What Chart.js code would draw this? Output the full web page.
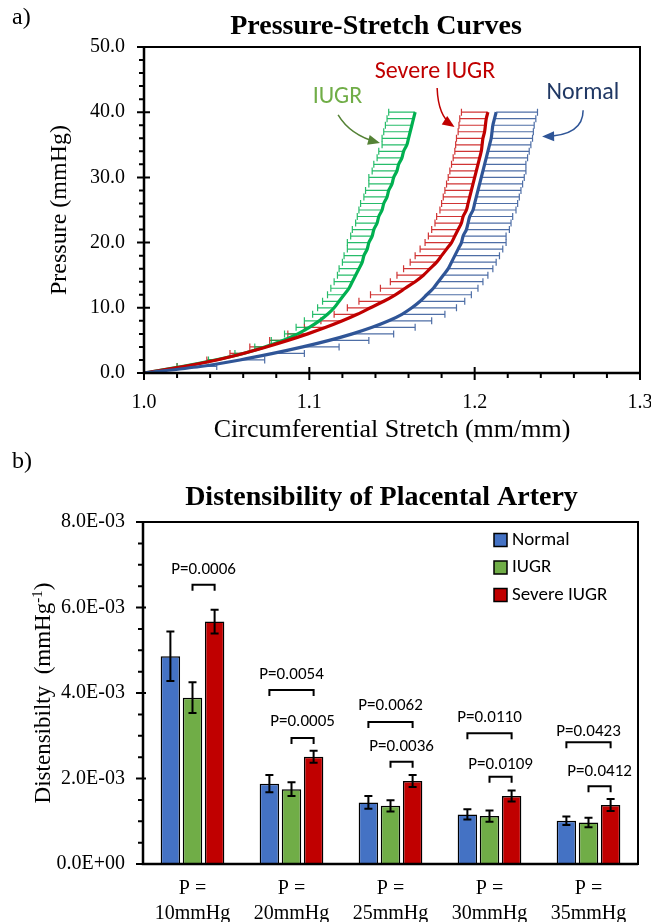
<!DOCTYPE html>
<html>
<head>
<meta charset="utf-8">
<title>Pressure-Stretch and Distensibility</title>
<script src="https://cdn.jsdelivr.net/npm/chart.js@4.4.0/dist/chart.umd.min.js"></script>
<style>
  html, body { margin: 0; padding: 0; background: #fff; }
  #wrap { position: relative; width: 651px; height: 922px; overflow: hidden; }
  .panel { position: absolute; left: 0; width: 651px; }
  #panelA { top: 0; height: 450px; }
  #panelB { top: 450px; height: 472px; }
</style>
</head>
<body>
<div id="wrap">
  <div class="panel" id="panelA"><canvas id="stretchChart"></canvas></div>
  <div class="panel" id="panelB"><canvas id="distChart"></canvas></div>
</div>
<script>
// --- a) pressure-stretch data (stretch read at each mmHg step) ---
const pressure = [0, 1, 2, 3, 4, 5, 6, 7, 8, 9, 10, 11, 12, 13, 14, 15, 16, 17, 18, 19, 20,
  21, 22, 23, 24, 25, 26, 27, 28, 29, 30, 31, 32, 33, 34, 35, 36, 37, 38, 39, 40];

const normalStretch = [1.000, 1.034, 1.058, 1.078, 1.096, 1.112, 1.126, 1.138, 1.148, 1.156, 1.162,
  1.167, 1.171, 1.175, 1.178, 1.181, 1.184, 1.186, 1.188, 1.190, 1.192, 1.193, 1.195, 1.196, 1.197,
  1.199, 1.200, 1.201, 1.202, 1.203, 1.204, 1.205, 1.206, 1.207, 1.208, 1.209, 1.210, 1.2105, 1.211,
  1.212, 1.213];
const iugrStretch = [1.000, 1.023, 1.043, 1.060, 1.073, 1.084, 1.093, 1.100, 1.106, 1.111, 1.115,
  1.118, 1.121, 1.124, 1.126, 1.128, 1.130, 1.132, 1.133, 1.135, 1.136, 1.138, 1.139, 1.141, 1.142,
  1.144, 1.145, 1.147, 1.148, 1.150, 1.151, 1.153, 1.154, 1.156, 1.157, 1.159, 1.160, 1.161, 1.162,
  1.163, 1.164];
const severeStretch = [1.000, 1.024, 1.044, 1.060, 1.074, 1.087, 1.099, 1.110, 1.120, 1.129, 1.137,
  1.145, 1.152, 1.158, 1.164, 1.169, 1.173, 1.177, 1.180, 1.183, 1.186, 1.188, 1.190, 1.192, 1.193,
  1.195, 1.196, 1.197, 1.198, 1.199, 1.200, 1.201, 1.202, 1.203, 1.204, 1.2045, 1.205, 1.206, 1.2065,
  1.207, 1.208];

// one-sided error bars (stretch units), + to the right, - to the left
const normalErr = [0, 0.010, 0.015, 0.019, 0.022, 0.024, 0.025, 0.026, 0.026, 0.026, 0.027,
  0.027, 0.027, 0.027, 0.027, 0.027, 0.027, 0.027, 0.027, 0.027, 0.027, 0.026, 0.026, 0.026, 0.026,
  0.026, 0.026, 0.026, 0.026, 0.026, 0.026, 0.026, 0.025, 0.025, 0.025, 0.025, 0.025, 0.025, 0.025,
  0.025, 0.025];
const iugrErr = [0, -0.003, -0.004, -0.005, -0.006, -0.007, -0.008, -0.008, -0.009, -0.009, -0.010,
  -0.010, -0.010, -0.011, -0.011, -0.011, -0.012, -0.012, -0.012, -0.012, -0.013, -0.013, -0.013,
  -0.013, -0.013, -0.014, -0.014, -0.014, -0.014, -0.014, -0.015, -0.015, -0.015, -0.015, -0.015,
  -0.015, -0.016, -0.016, -0.016, -0.016, -0.016];
const severeErr = [0, -0.004, -0.006, -0.008, -0.010, -0.011, -0.012, -0.013, -0.013, -0.014, -0.014,
  -0.015, -0.015, -0.015, -0.015, -0.016, -0.016, -0.016, -0.016, -0.016, -0.016, -0.016, -0.016,
  -0.016, -0.016, -0.016, -0.016, -0.016, -0.016, -0.016, -0.016, -0.016, -0.016, -0.016, -0.016,
  -0.016, -0.016, -0.016, -0.016, -0.016, -0.016];

// --- b) distensibility data ---
const groups = [['P =', '10mmHg'], ['P =', '20mmHg'], ['P =', '25mmHg'], ['P =', '30mmHg'], ['P =', '35mmHg']];
const normalDist = [4.86e-3, 1.88e-3, 1.44e-3, 1.16e-3, 1.01e-3];
const iugrDist = [3.89e-3, 1.75e-3, 1.36e-3, 1.12e-3, 0.97e-3];
const severeDist = [5.67e-3, 2.51e-3, 1.94e-3, 1.59e-3, 1.38e-3];
const normalSE = [0.58e-3, 0.20e-3, 0.15e-3, 0.12e-3, 0.10e-3];
const iugrSE = [0.36e-3, 0.16e-3, 0.13e-3, 0.13e-3, 0.11e-3];
const severeSE = [0.28e-3, 0.14e-3, 0.14e-3, 0.13e-3, 0.14e-3];

// significance brackets: group, from dataset, to dataset, bracket level, text level
const pValues = [
  { g: 0, a: 1, b: 2, y: 6.53e-3, ty: 6.88e-3, text: 'P=0.0006' },
  { g: 1, a: 0, b: 2, y: 4.07e-3, ty: 4.42e-3, text: 'P=0.0054' },
  { g: 1, a: 1, b: 2, y: 2.95e-3, ty: 3.32e-3, text: 'P=0.0005' },
  { g: 2, a: 0, b: 2, y: 3.32e-3, ty: 3.70e-3, text: 'P=0.0062' },
  { g: 2, a: 1, b: 2, y: 2.39e-3, ty: 2.74e-3, text: 'P=0.0036' },
  { g: 3, a: 0, b: 2, y: 3.06e-3, ty: 3.42e-3, text: 'P=0.0110' },
  { g: 3, a: 1, b: 2, y: 2.04e-3, ty: 2.32e-3, text: 'P=0.0109' },
  { g: 4, a: 0, b: 2, y: 2.85e-3, ty: 3.09e-3, text: 'P=0.0423' },
  { g: 4, a: 1, b: 2, y: 1.82e-3, ty: 2.15e-3, text: 'P=0.0412' }
];

const serif = '"Liberation Serif", "Times New Roman", serif';
const sans = 'Carlito, Lato, "Open Sans", sans-serif';

function drawText(ctx, text, x, y, font, color, align) {
  ctx.save();
  ctx.font = font;
  ctx.fillStyle = color;
  ctx.textAlign = align || 'center';
  ctx.textBaseline = 'middle';
  ctx.fillText(text, x, y);
  ctx.restore();
}

function drawArrow(ctx, p0, c, p1, color) {
  ctx.save();
  ctx.strokeStyle = color;
  ctx.fillStyle = color;
  ctx.lineWidth = 1.5;
  ctx.beginPath();
  ctx.moveTo(p0.x, p0.y);
  ctx.quadraticCurveTo(c.x, c.y, p1.x, p1.y);
  ctx.stroke();
  const ang = Math.atan2(p1.y - c.y, p1.x - c.x);
  ctx.beginPath();
  ctx.moveTo(p1.x + 3 * Math.cos(ang), p1.y + 3 * Math.sin(ang));
  ctx.lineTo(p1.x - 9 * Math.cos(ang) + 5 * Math.sin(ang), p1.y - 9 * Math.sin(ang) - 5 * Math.cos(ang));
  ctx.lineTo(p1.x - 9 * Math.cos(ang) - 5 * Math.sin(ang), p1.y - 9 * Math.sin(ang) + 5 * Math.cos(ang));
  ctx.closePath();
  ctx.fill();
  ctx.restore();
}

function toPoints(stretch) {
  return stretch.map((s, i) => ({ x: s, y: pressure[i] }));
}

function sci(v) {
  if (Math.abs(v) < 1e-12) return '0.0E+00';
  const e = Math.floor(Math.log10(Math.abs(v)) + 1e-9);
  const m = v / Math.pow(10, e);
  return m.toFixed(1) + 'E' + (e < 0 ? '-' : '+') + String(Math.abs(e)).padStart(2, '0');
}

/* --- a) plugins --- */
const stretchErrorBars = {
  id: 'stretchErrorBars',
  beforeDatasetsDraw(chart) {
    const { ctx, scales: { x, y } } = chart;
    chart.data.datasets.forEach(ds => {
      if (!ds.errors) return;
      ctx.save();
      ctx.strokeStyle = ds.errColor;
      ctx.lineWidth = 1.2;
      ds.data.forEach((p, i) => {
        const err = ds.errors[i];
        if (!err) return;
        const py = y.getPixelForValue(p.y);
        const x0 = x.getPixelForValue(p.x);
        const x1 = x.getPixelForValue(p.x + err);
        ctx.beginPath();
        ctx.moveTo(x0, py);
        ctx.lineTo(x1, py);
        ctx.moveTo(x1, py - 3.5);
        ctx.lineTo(x1, py + 3.5);
        ctx.stroke();
      });
      ctx.restore();
    });
  }
};

const stretchFrame = {
  id: 'stretchFrame',
  afterDatasetsDraw(chart) {
    const { ctx, chartArea: a, scales: { x, y } } = chart;
    ctx.save();
    ctx.strokeStyle = '#000';
    ctx.lineWidth = 2;
    ctx.strokeRect(a.left, a.top, a.right - a.left, a.bottom - a.top);
    ctx.lineWidth = 2.5;
    ctx.beginPath();
    ctx.moveTo(a.left, a.top);
    ctx.lineTo(a.left, a.bottom);
    ctx.lineTo(a.right, a.bottom);
    ctx.stroke();
    ctx.lineWidth = 2;
    ctx.beginPath();
    for (let i = 0; i <= 25; i++) {
      const py = y.getPixelForValue(i * 2);
      const major = i % 5 === 0;
      ctx.moveTo(a.left - (major ? 7 : 5), py);
      ctx.lineTo(a.left + (major ? 6 : 0), py);
    }
    for (let i = 0; i <= 15; i++) {
      const px = x.getPixelForValue(1 + i * 0.02);
      const major = i % 5 === 0;
      ctx.moveTo(px, a.bottom - (major ? 6 : 0));
      ctx.lineTo(px, a.bottom + (major ? 7 : 5));
    }
    ctx.stroke();
    ctx.restore();
  }
};

const stretchLabels = {
  id: 'stretchLabels',
  afterDraw(chart) {
    const { ctx, chartArea: a, scales: { x, y } } = chart;
    const P = (sx, py) => ({ x: x.getPixelForValue(sx), y: y.getPixelForValue(py) });
    drawText(ctx, 'a)', 12, 18, '24px ' + serif, '#000', 'left');
    drawText(ctx, 'Pressure-Stretch Curves', (a.left + a.right) / 2 - 16, 27, 'bold 28px ' + serif, '#000');
    drawText(ctx, 'Circumferential Stretch (mm/mm)', (a.left + a.right) / 2, 430, '26px ' + serif, '#000');
    ctx.save();
    ctx.translate(60, (a.top + a.bottom) / 2);
    ctx.rotate(-Math.PI / 2);
    drawText(ctx, 'Pressure (mmHg)', 0, 0, '24px ' + serif, '#000');
    ctx.restore();

    let p = P(1.117, 42.3);
    drawText(ctx, 'IUGR', p.x, p.y, '24px ' + sans, '#70AD47');
    drawArrow(ctx, P(1.1174, 39.6), P(1.1247, 36.5), P(1.141, 35.4), '#548235');

    p = P(1.176, 46.2);
    drawText(ctx, 'Severe IUGR', p.x, p.y, '24px ' + sans, '#C00000');
    drawArrow(ctx, P(1.1773, 43.7), P(1.1779, 39.4), P(1.1863, 38.0), '#C00000');

    p = P(1.2655, 42.9);
    drawText(ctx, 'Normal', p.x, p.y, '24px ' + sans, '#203864');
    drawArrow(ctx, P(1.2656, 40.3), P(1.2656, 36.4), P(1.2426, 36.3), '#2F5597');
  }
};

new Chart(document.getElementById('stretchChart'), {
  type: 'scatter',
  data: {
    datasets: [
      { label: 'Normal', data: toPoints(normalStretch), errors: normalErr, borderColor: '#2F5597', errColor: 'rgba(47,85,151,0.85)' },
      { label: 'Severe IUGR', data: toPoints(severeStretch), errors: severeErr, borderColor: '#C00000', errColor: 'rgba(200,16,16,0.85)' },
      { label: 'IUGR', data: toPoints(iugrStretch), errors: iugrErr, borderColor: '#00B050', errColor: 'rgba(0,176,80,0.85)' }
    ].map(ds => Object.assign(ds, { showLine: true, borderWidth: 3.2, pointRadius: 0, tension: 0.3, fill: false }))
  },
  options: {
    responsive: true,
    maintainAspectRatio: false,
    animation: false,
    layout: { padding: { top: 47, right: 11, left: 0, bottom: 0 } },
    plugins: { legend: { display: false }, tooltip: { enabled: false } },
    scales: {
      x: {
        type: 'linear', min: 1.0, max: 1.3,
        grid: { display: false, drawTicks: false }, border: { display: false },
        ticks: { stepSize: 0.1, maxRotation: 0, autoSkip: false, padding: 18, color: '#000',
          font: { family: serif, size: 20 }, callback: v => v.toFixed(1) },
        afterFit: s => { s.height = 77; s.paddingLeft = 0; s.paddingRight = 0; }
      },
      y: {
        min: 0, max: 50,
        grid: { display: false, drawTicks: false }, border: { display: false },
        ticks: { stepSize: 10, padding: 19, color: '#000',
          font: { family: serif, size: 20 }, callback: v => v.toFixed(1) },
        afterFit: s => { s.width = 144; }
      }
    }
  },
  plugins: [stretchErrorBars, stretchFrame, stretchLabels]
});

/* --- b) plugins --- */
const barErrorBars = {
  id: 'barErrorBars',
  afterDatasetsDraw(chart) {
    const { ctx, scales: { y } } = chart;
    ctx.save();
    ctx.strokeStyle = '#000';
    ctx.lineWidth = 2;
    chart.data.datasets.forEach((ds, di) => {
      chart.getDatasetMeta(di).data.forEach((bar, i) => {
        const v = ds.data[i], e = ds.errors[i];
        const yt = y.getPixelForValue(v + e), yb = y.getPixelForValue(v - e);
        ctx.beginPath();
        ctx.moveTo(bar.x, yt); ctx.lineTo(bar.x, yb);
        ctx.moveTo(bar.x - 4, yt); ctx.lineTo(bar.x + 4, yt);
        ctx.moveTo(bar.x - 4, yb); ctx.lineTo(bar.x + 4, yb);
        ctx.stroke();
      });
    });
    ctx.restore();
  }
};

const distFrame = {
  id: 'distFrame',
  afterDatasetsDraw(chart) {
    const { ctx, chartArea: a, scales: { y } } = chart;
    ctx.save();
    ctx.strokeStyle = '#000';
    ctx.lineWidth = 2;
    ctx.strokeRect(a.left, a.top, a.right - a.left, a.bottom - a.top);
    ctx.lineWidth = 2.5;
    ctx.beginPath();
    ctx.moveTo(a.left, a.top);
    ctx.lineTo(a.left, a.bottom);
    ctx.lineTo(a.right, a.bottom);
    ctx.stroke();
    ctx.lineWidth = 2;
    ctx.beginPath();
    for (let i = 0; i <= 16; i++) {
      const py = y.getPixelForValue(i * 0.0005);
      const major = i % 4 === 0;
      ctx.moveTo(a.left - (major ? 7 : 5), py);
      ctx.lineTo(a.left + (major ? 3 : 0), py);
    }
    ctx.stroke();
    ctx.restore();
  }
};

const distLabels = {
  id: 'distLabels',
  afterDraw(chart) {
    const { ctx, chartArea: a, scales: { y } } = chart;
    drawText(ctx, 'b)', 12, 12, '24px ' + serif, '#000', 'left');
    drawText(ctx, 'Distensibility of Placental Artery', (a.left + a.right) / 2 - 9, 48, 'bold 28px ' + serif, '#000');

    // rotated axis title with superscript
    ctx.save();
    ctx.translate(44, (a.top + a.bottom) / 2);
    ctx.rotate(-Math.PI / 2);
    ctx.fillStyle = '#000';
    ctx.textBaseline = 'middle';
    ctx.textAlign = 'left';
    const main = 'Distensibilty  (mmHg', sup = '-1', end = ')';
    ctx.font = '23px ' + serif;
    const w1 = ctx.measureText(main).width, w3 = ctx.measureText(end).width;
    ctx.font = '15px ' + serif;
    const w2 = ctx.measureText(sup).width;
    let cx = -(w1 + w2 + w3) / 2;
    ctx.font = '23px ' + serif;
    ctx.fillText(main, cx, 0); cx += w1;
    ctx.font = '15px ' + serif;
    ctx.fillText(sup, cx, -6); cx += w2;
    ctx.font = '23px ' + serif;
    ctx.fillText(end, cx, 0);
    ctx.restore();

    // legend
    const lx = a.right - 144;
    chart.data.datasets.forEach((ds, i) => {
      const ly = 90 + i * 27.5;
      ctx.save();
      ctx.fillStyle = ds.backgroundColor;
      ctx.fillRect(lx, ly - 6.5, 13, 13);
      ctx.strokeStyle = '#000';
      ctx.lineWidth = 1.5;
      ctx.strokeRect(lx, ly - 6.5, 13, 13);
      ctx.restore();
      drawText(ctx, ds.label, lx + 18, ly, '19px ' + sans, '#000', 'left');
    });

    // significance brackets
    ctx.save();
    ctx.strokeStyle = '#000';
    ctx.lineWidth = 2;
    pValues.forEach(p => {
      const xa = chart.getDatasetMeta(p.a).data[p.g].x;
      const xb = chart.getDatasetMeta(p.b).data[p.g].x;
      const by = y.getPixelForValue(p.y);
      ctx.beginPath();
      ctx.moveTo(xa, by + 6); ctx.lineTo(xa, by); ctx.lineTo(xb, by); ctx.lineTo(xb, by + 6);
      ctx.stroke();
      drawText(ctx, p.text, (xa + xb) / 2, y.getPixelForValue(p.ty), '17px ' + sans, '#000');
    });
    ctx.restore();
  }
};

new Chart(document.getElementById('distChart'), {
  type: 'bar',
  data: {
    labels: groups,
    datasets: [
      { label: 'Normal', data: normalDist, errors: normalSE, backgroundColor: '#4472C4' },
      { label: 'IUGR', data: iugrDist, errors: iugrSE, backgroundColor: '#70AD47' },
      { label: 'Severe IUGR', data: severeDist, errors: severeSE, backgroundColor: '#C00000' }
    ].map(ds => Object.assign(ds, { borderColor: '#000', borderWidth: 1.5, categoryPercentage: 0.67, barPercentage: 0.88 }))
  },
  options: {
    responsive: true,
    maintainAspectRatio: false,
    animation: false,
    layout: { padding: { top: 72, right: 13, left: 0, bottom: 0 } },
    plugins: { legend: { display: false }, tooltip: { enabled: false } },
    scales: {
      x: {
        grid: { display: false, drawTicks: false }, border: { display: false },
        ticks: { maxRotation: 0, autoSkip: false, padding: 13, color: '#000',
          font: { family: serif, size: 20, lineHeight: 1.22 } },
        afterFit: s => { s.height = 58; s.paddingLeft = 0; s.paddingRight = 0; }
      },
      y: {
        min: 0, max: 0.008,
        grid: { display: false, drawTicks: false }, border: { display: false },
        ticks: { stepSize: 0.002, padding: 18, color: '#000',
          font: { family: serif, size: 20 }, callback: v => sci(v) },
        afterFit: s => { s.width = 143; }
      }
    }
  },
  plugins: [barErrorBars, distFrame, distLabels]
});
</script>
</body>
</html>
